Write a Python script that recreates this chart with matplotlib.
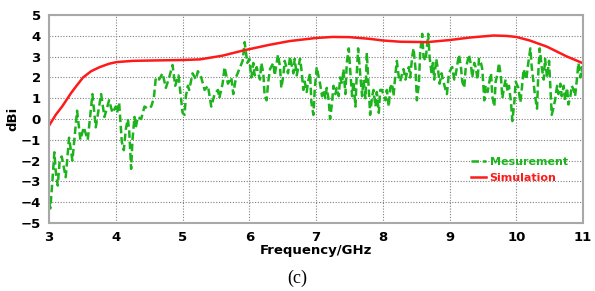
import matplotlib.pyplot as plt

meas_f = [3.00, 3.02, 3.05, 3.08, 3.10, 3.13, 3.16, 3.19, 3.25, 3.30, 3.35, 3.42, 3.47, 3.52,
          3.58, 3.65, 3.70, 3.78, 3.83, 3.90, 3.95, 4.00,
          4.02, 4.05, 4.09, 4.12, 4.15, 4.18, 4.20, 4.23, 4.25, 4.28, 4.30, 4.33, 4.38, 4.43,
          4.48, 4.53, 4.57, 4.60, 4.65, 4.70, 4.75, 4.80, 4.85, 4.89, 4.94, 4.97,
          5.00, 5.03, 5.05, 5.08, 5.10, 5.15, 5.20, 5.23, 5.28, 5.33, 5.38, 5.43, 5.48, 5.53,
          5.55, 5.60, 5.63, 5.68, 5.73, 5.76, 5.80, 5.85, 5.90, 5.93, 5.97,
          6.00, 6.03, 6.06, 6.08, 6.11, 6.16, 6.18, 6.21, 6.23, 6.26, 6.28, 6.31, 6.36, 6.38,
          6.43, 6.46, 6.48, 6.51, 6.53, 6.58, 6.61, 6.66, 6.68, 6.71, 6.76, 6.78, 6.81, 6.83,
          6.86, 6.88, 6.91, 6.93, 6.96, 6.98,
          7.01, 7.04, 7.06, 7.09, 7.11, 7.14, 7.16, 7.19, 7.21, 7.24, 7.26, 7.29, 7.31, 7.34,
          7.36, 7.39, 7.41, 7.44, 7.46, 7.49, 7.51, 7.54, 7.56, 7.59, 7.61, 7.63, 7.66, 7.69,
          7.71, 7.74, 7.76, 7.79, 7.81, 7.84, 7.86, 7.89, 7.91, 7.94, 7.96, 7.99,
          8.01, 8.04, 8.06, 8.09, 8.11, 8.14, 8.16, 8.19, 8.21, 8.24, 8.26, 8.29, 8.31, 8.34,
          8.36, 8.39, 8.41, 8.44, 8.46, 8.49, 8.51, 8.54, 8.56, 8.59, 8.61, 8.64, 8.68, 8.70,
          8.73, 8.75, 8.77, 8.80, 8.83, 8.85, 8.88, 8.90, 8.94, 8.96, 8.99,
          9.02, 9.04, 9.07, 9.09, 9.12, 9.14, 9.17, 9.19, 9.22, 9.24, 9.27, 9.29, 9.32, 9.34,
          9.37, 9.39, 9.42, 9.44, 9.47, 9.49, 9.52, 9.54, 9.57, 9.59, 9.62, 9.64, 9.67, 9.69,
          9.72, 9.74, 9.77, 9.79, 9.82, 9.84, 9.87, 9.89, 9.92, 9.94, 9.97, 9.99,
          10.03, 10.06, 10.08, 10.11, 10.15, 10.17, 10.21, 10.23, 10.26, 10.28, 10.31, 10.33,
          10.35, 10.38, 10.41, 10.43, 10.46, 10.49, 10.53, 10.56, 10.58, 10.61, 10.63, 10.66,
          10.68, 10.71, 10.73, 10.76, 10.78, 10.81, 10.83, 10.86, 10.88, 10.91, 10.93, 10.96,
          10.98, 11.00]
meas_g = [-4.0, -4.3, -3.0, -1.6, -2.5, -3.2, -2.0, -1.8, -2.8, -0.9, -2.0, 0.4, -1.0, -0.4,
          -1.0, 1.2, -0.4, 1.2, 0.1, 0.9, 0.3, 0.6,
          0.3, 0.8, -1.1, -1.5, -0.5, 0.0, -0.5, -2.4, -1.0, 0.1, -0.4, 0.1, 0.0, 0.6,
          0.5, 0.6, 1.0, 2.0, 1.9, 2.2, 1.5, 2.0, 2.6, 1.6, 2.1, 1.2,
          0.3, 0.2, 1.1, 1.6, 1.4, 2.2, 1.9, 2.3, 2.0, 1.4, 1.6, 0.6, 1.2, 1.4,
          1.0, 1.7, 2.5, 1.7, 2.0, 1.2, 2.0, 2.4, 2.8, 3.7, 2.7,
          2.9, 2.0, 2.7, 2.1, 2.5, 1.9, 2.7, 2.2, 1.1, 0.9, 1.7, 2.4, 2.7, 2.1,
          3.1, 2.5, 1.5, 2.1, 2.8, 2.2, 3.0, 2.2, 2.9, 2.1, 2.9, 2.4, 1.4, 1.8,
          1.3, 1.8, 2.2, 0.8, 0.2, 1.4,
          2.5, 2.0, 1.7, 1.1, 1.4, 1.0, 1.5, 0.9, 0.0, 0.8, 1.6, 1.2, 1.5, 1.1,
          2.0, 1.7, 2.4, 1.2, 2.7, 3.4, 2.4, 1.1, 1.8, 0.6, 2.2, 3.4, 2.2, 1.1,
          1.9, 1.0, 3.2, 1.4, 0.2, 1.1, 1.4, 0.6, 1.3, 0.3, 1.4, 1.4,
          1.1, 0.9, 1.4, 0.6, 1.5, 1.7, 1.1, 2.2, 2.8, 2.0, 1.8, 2.2, 2.4, 1.9,
          2.2, 2.5, 2.0, 3.0, 3.4, 2.4, 0.9, 1.7, 3.2, 4.1, 3.0, 2.8, 4.1, 3.0,
          2.2, 2.7, 1.9, 2.9, 2.3, 1.7, 2.2, 1.9, 1.4, 1.2, 2.2,
          2.4, 2.5, 1.9, 2.1, 2.7, 3.1, 2.5, 1.8, 1.5, 2.4, 2.8, 3.1, 2.6, 2.0,
          2.7, 2.5, 1.9, 2.9, 2.7, 2.4, 0.9, 1.6, 1.3, 1.7, 2.2, 1.1, 0.6, 1.8,
          2.2, 2.7, 2.0, 1.0, 1.6, 1.9, 1.3, 1.6, 0.8, -0.1, 0.8, 1.8,
          1.5, 0.8, 1.4, 2.4, 1.9, 2.5, 3.4, 2.5, 1.7, 1.1, 0.5, 2.3,
          3.4, 2.5, 1.9, 2.9, 2.0, 2.8, 0.2, 0.6, 0.9, 1.6, 1.2, 1.7,
          1.1, 1.6, 0.9, 1.5, 0.7, 1.1, 1.6, 1.4, 1.1, 2.0, 2.7, 2.0,
          2.5, 2.1]

# simulated gain
sim_f = [3.0, 3.1, 3.2, 3.26, 3.33, 3.4, 3.51, 3.63, 3.76, 3.9, 4.01, 4.26, 4.6, 5.0, 5.26,
         5.6, 5.91, 6.3, 6.6, 7.0, 7.25, 7.5, 7.8, 8.0, 8.26, 8.66, 9.0, 9.3, 9.66, 9.85,
         10.0, 10.2, 10.46, 10.75, 11.0]
sim_g = [-0.32, 0.2, 0.62, 0.91, 1.25, 1.55, 2.0, 2.3, 2.5, 2.66, 2.74, 2.8, 2.82, 2.84, 2.87,
         3.05, 3.3, 3.57, 3.75, 3.9, 3.95, 3.94, 3.86, 3.78, 3.72, 3.7, 3.8, 3.92, 4.02, 4.0,
         3.95, 3.78, 3.48, 3.02, 2.68]

green = '#1db31d'
red = '#ff1a1a'

fig = plt.figure(figsize=(5.95, 2.91), dpi=100)
ax = fig.add_axes([0.0824, 0.234, 0.8976, 0.714])

ax.plot(meas_f, meas_g, color=green, lw=1.8, ls=(0, (3, 1.5)), label='Mesurement')
ax.plot(sim_f, sim_g, color=red, lw=1.8, label='Simulation')

ax.set_xlim(3, 11)
ax.set_ylim(-5, 5)
ax.set_xticks(range(3, 12))
ax.set_yticks(range(-5, 6))
ax.tick_params(length=0, labelsize=9.5, pad=6)
for lab in ax.get_xticklabels() + ax.get_yticklabels():
    lab.set_fontweight('bold')

ax.grid(True, color='#808080', ls=(0, (1, 1.5)), lw=0.8)
for s in ax.spines.values():
    s.set_color('#a8a8a8')
    s.set_linewidth(1.5)

ax.set_xlabel('Frequency/GHz', fontsize=9.5, fontweight='bold', labelpad=0)
ax.set_ylabel('dBi', fontsize=9.5, fontweight='bold', labelpad=1)

leg = ax.legend(loc='center', bbox_to_anchor=(0.881, 0.255), frameon=False,
                handlelength=1.35, handletextpad=0.3, labelspacing=0.6,
                prop={'weight': 'bold', 'size': 8}, labelcolor='linecolor')

fig.text(0.5, 0.045, '(c)', ha='center', va='center', fontsize=13,
         family='Liberation Serif')

fig.savefig('out.png', dpi=100)
